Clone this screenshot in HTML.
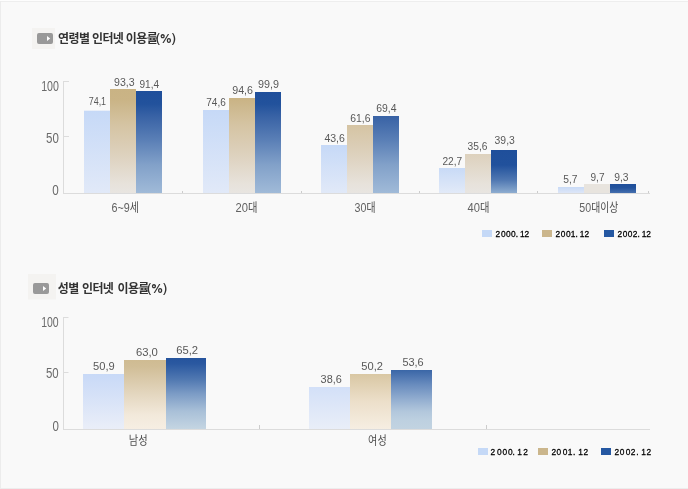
<!DOCTYPE html>
<html lang="ko">
<head>
<meta charset="utf-8">
<title>인터넷 이용률</title>
<style>
html,body{margin:0;padding:0;background:#f9f9f9;}
body{width:688px;height:489px;overflow:hidden;font-family:"Liberation Sans","Noto Sans CJK KR",sans-serif;}
svg{display:block;will-change:transform;}
text{font-family:"Liberation Sans","Noto Sans CJK KR",sans-serif;}
.h{font-family:"Liberation Sans","Noto Sans CJK KR",sans-serif;font-size:12px;font-weight:700;fill:#333333;letter-spacing:-0.55px;}
.h .p{font-family:"NanumGothic","Liberation Sans",sans-serif;}
.v{font-size:11.5px;fill:#585858;}
.a{font-size:14px;fill:#6a6a6a;}
.k{font-size:12px;font-weight:400;fill:#4c4c4c;}
.k tspan{font-size:13px;fill:#626262;}
.l{font-size:9.5px;font-weight:400;fill:#000000;stroke:#000000;stroke-width:0.28px;}
</style>
</head>
<body>
<svg width="688" height="489" viewBox="0 0 688 489">
<defs>
<linearGradient id="g0" x1="0" y1="0" x2="0" y2="1"><stop offset="0" stop-color="#c6d9f7"/><stop offset="1" stop-color="#e1e9f8"/></linearGradient>
<linearGradient id="g1" x1="0" y1="0" x2="0" y2="1"><stop offset="0" stop-color="#c9b384"/><stop offset="0.106" stop-color="#cab486"/><stop offset="0.346" stop-color="#d5c4a3"/><stop offset="0.625" stop-color="#ddd1bd"/><stop offset="0.913" stop-color="#e7e2db"/><stop offset="1" stop-color="#e8e5e1"/></linearGradient>
<linearGradient id="g2" x1="0" y1="0" x2="0" y2="1"><stop offset="0" stop-color="#1f4f9b"/><stop offset="0.127" stop-color="#22529c"/><stop offset="0.245" stop-color="#3862a5"/><stop offset="0.48" stop-color="#5a7fb6"/><stop offset="0.725" stop-color="#82a1c9"/><stop offset="1" stop-color="#a0bad8"/></linearGradient>
<linearGradient id="g3" x1="0" y1="0" x2="0" y2="1"><stop offset="0" stop-color="#cab486"/><stop offset="0.021" stop-color="#cab486"/><stop offset="0.284" stop-color="#d5c4a3"/><stop offset="0.589" stop-color="#ddd1bd"/><stop offset="0.905" stop-color="#e7e2db"/><stop offset="1" stop-color="#e8e5e1"/></linearGradient>
<linearGradient id="g4" x1="0" y1="0" x2="0" y2="1"><stop offset="0" stop-color="#1f4f9b"/><stop offset="0.119" stop-color="#22529c"/><stop offset="0.238" stop-color="#3862a5"/><stop offset="0.475" stop-color="#5a7fb6"/><stop offset="0.723" stop-color="#82a1c9"/><stop offset="1" stop-color="#a0bad8"/></linearGradient>
<linearGradient id="g5" x1="0" y1="0" x2="0" y2="1"><stop offset="0" stop-color="#d5c4a3"/><stop offset="0.426" stop-color="#ddd1bd"/><stop offset="0.868" stop-color="#e7e2db"/><stop offset="1" stop-color="#e8e5e1"/></linearGradient>
<linearGradient id="g6" x1="0" y1="0" x2="0" y2="1"><stop offset="0" stop-color="#3862a5"/><stop offset="0.312" stop-color="#5a7fb6"/><stop offset="0.636" stop-color="#82a1c9"/><stop offset="1" stop-color="#a0bad8"/></linearGradient>
<linearGradient id="g7" x1="0" y1="0" x2="0" y2="1"><stop offset="0" stop-color="#c8daf6"/><stop offset="1" stop-color="#e2eaf8"/></linearGradient>
<linearGradient id="g8" x1="0" y1="0" x2="0" y2="1"><stop offset="0" stop-color="#ddd1bd"/><stop offset="0.769" stop-color="#e7e2db"/><stop offset="1" stop-color="#e8e5e1"/></linearGradient>
<linearGradient id="g9" x1="0" y1="0" x2="0" y2="1"><stop offset="0" stop-color="#1f4f9b"/><stop offset="0.35" stop-color="#21519c"/><stop offset="0.7" stop-color="#5078b2"/><stop offset="1" stop-color="#8eadd0"/></linearGradient>
<linearGradient id="g10" x1="0" y1="0" x2="0" y2="1"><stop offset="0" stop-color="#c8daf6"/><stop offset="1" stop-color="#dde6f7"/></linearGradient>
<linearGradient id="g11" x1="0" y1="0" x2="0" y2="1"><stop offset="0" stop-color="#e8e4de"/><stop offset="1" stop-color="#e8e4de"/></linearGradient>
<linearGradient id="g12" x1="0" y1="0" x2="0" y2="1"><stop offset="0" stop-color="#1f4f9b"/><stop offset="0.4" stop-color="#22529c"/><stop offset="1" stop-color="#456fae"/></linearGradient>
<linearGradient id="g13" x1="0" y1="0" x2="0" y2="1"><stop offset="0" stop-color="#c8d9f7"/><stop offset="1" stop-color="#eaeef8"/></linearGradient>
<linearGradient id="g14" x1="0" y1="0" x2="0" y2="1"><stop offset="0" stop-color="#cfbb92"/><stop offset="0.1" stop-color="#d1be97"/><stop offset="0.5" stop-color="#e4d7c0"/><stop offset="0.8" stop-color="#f2e9db"/><stop offset="1" stop-color="#f6eee3"/></linearGradient>
<linearGradient id="g15" x1="0" y1="0" x2="0" y2="1"><stop offset="0" stop-color="#25549d"/><stop offset="0.08" stop-color="#2a58a0"/><stop offset="0.3" stop-color="#5078b1"/><stop offset="0.5" stop-color="#7b9bc5"/><stop offset="0.75" stop-color="#a9c0d8"/><stop offset="1" stop-color="#c4d5e2"/></linearGradient>
<linearGradient id="g16" x1="0" y1="0" x2="0" y2="1"><stop offset="0" stop-color="#d3e0f8"/><stop offset="1" stop-color="#e9eef8"/></linearGradient>
<linearGradient id="g17" x1="0" y1="0" x2="0" y2="1"><stop offset="0" stop-color="#d9c7a3"/><stop offset="0.5" stop-color="#ecdfca"/><stop offset="1" stop-color="#f6eee2"/></linearGradient>
<linearGradient id="g18" x1="0" y1="0" x2="0" y2="1"><stop offset="0" stop-color="#3a66a7"/><stop offset="0.25" stop-color="#698cbe"/><stop offset="0.5" stop-color="#93aed0"/><stop offset="0.7" stop-color="#b2c7dc"/><stop offset="0.85" stop-color="#bdd0e0"/><stop offset="1" stop-color="#c2d3e1"/></linearGradient>
</defs>
<rect x="0" y="0" width="688" height="489" fill="#f9f9f9"/>
<rect x="0" y="0" width="688" height="1" fill="#fdfdfd"/>
<rect x="0" y="1" width="688" height="1" fill="#eeeeee"/>
<rect x="0" y="1" width="1" height="488" fill="#ececec"/>
<rect x="0" y="488" width="688" height="1" fill="#ededed"/>
<rect x="32" y="28" width="23" height="21" fill="#f4f3f1"/>
<rect x="37" y="33" width="16" height="11" rx="1.9" ry="1.9" fill="#999999"/>
<path d="M47 36 L50.2 38.5 L47 41 Z" fill="#ffffff"/>
<text class="h" y="42.6"><tspan x="58.0">연령별 </tspan><tspan x="91.9">인터넷 </tspan><tspan x="125.8">이용률</tspan><tspan x="155.4" class="p">(%)</tspan></text>
<rect x="28" y="274" width="28" height="25.5" fill="#f4f3f1"/>
<rect x="33" y="283" width="16" height="11" rx="1.9" ry="1.9" fill="#999999"/>
<path d="M43 286 L46.2 288.5 L43 291 Z" fill="#ffffff"/>
<text class="h" y="292.6"><tspan x="57.7">성별 </tspan><tspan x="81.9">인터넷 </tspan><tspan x="117.4">이용률</tspan><tspan x="146.7" class="p">(%)</tspan></text>
<rect x="63" y="81" width="1" height="113" fill="#dcdcdc"/>
<rect x="63" y="81" width="6" height="1" fill="#dcdcdc"/>
<rect x="63" y="136" width="6" height="1" fill="#dcdcdc"/>
<rect x="63" y="193" width="587" height="1" fill="#dcdcdc"/>
<rect x="182" y="191" width="1" height="2" fill="#cccccc"/>
<rect x="301" y="191" width="1" height="2" fill="#cccccc"/>
<rect x="419" y="191" width="1" height="2" fill="#cccccc"/>
<rect x="537" y="191" width="1" height="2" fill="#cccccc"/>
<rect x="648" y="191" width="1" height="2" fill="#cccccc"/>
<rect x="84" y="110.7" width="26" height="82.3" fill="url(#g0)"/>
<rect x="110" y="89" width="26" height="104" fill="url(#g1)"/>
<rect x="136" y="91" width="26" height="102" fill="url(#g2)"/>
<rect x="203" y="110" width="26" height="83" fill="url(#g0)"/>
<rect x="229" y="98" width="26" height="95" fill="url(#g3)"/>
<rect x="255" y="92" width="26" height="101" fill="url(#g4)"/>
<rect x="321" y="145" width="26" height="48" fill="url(#g0)"/>
<rect x="347" y="125" width="26" height="68" fill="url(#g5)"/>
<rect x="373" y="116" width="26" height="77" fill="url(#g6)"/>
<rect x="439" y="168" width="26" height="25" fill="url(#g7)"/>
<rect x="465" y="154" width="26" height="39" fill="url(#g8)"/>
<rect x="491" y="150" width="26" height="43" fill="url(#g9)"/>
<rect x="558" y="187" width="26" height="6" fill="url(#g10)"/>
<rect x="584" y="184" width="26" height="9" fill="url(#g11)"/>
<rect x="610" y="184" width="26" height="9" fill="url(#g12)"/>
<text class="v" x="88.7" y="105" textLength="17.4" lengthAdjust="spacingAndGlyphs">74,1</text>
<text class="v" x="114.1" y="86" textLength="20.6" lengthAdjust="spacingAndGlyphs">93,3</text>
<text class="v" x="139.5" y="88.3" textLength="19.6" lengthAdjust="spacingAndGlyphs">91,4</text>
<text class="v" x="206.3" y="106" textLength="19.5" lengthAdjust="spacingAndGlyphs">74,6</text>
<text class="v" x="232.2" y="94.2" textLength="20.8" lengthAdjust="spacingAndGlyphs">94,6</text>
<text class="v" x="257.9" y="88" textLength="21.0" lengthAdjust="spacingAndGlyphs">99,9</text>
<text class="v" x="324.4" y="141.8" textLength="20.5" lengthAdjust="spacingAndGlyphs">43,6</text>
<text class="v" x="350.3" y="122.2" textLength="20.2" lengthAdjust="spacingAndGlyphs">61,6</text>
<text class="v" x="376.2" y="112" textLength="20.3" lengthAdjust="spacingAndGlyphs">69,4</text>
<text class="v" x="442.4" y="165" textLength="19.8" lengthAdjust="spacingAndGlyphs">22,7</text>
<text class="v" x="467.6" y="149.7" textLength="19.9" lengthAdjust="spacingAndGlyphs">35,6</text>
<text class="v" x="494.6" y="143.9" textLength="20.2" lengthAdjust="spacingAndGlyphs">39,3</text>
<text class="v" x="563.2" y="183" textLength="14.3" lengthAdjust="spacingAndGlyphs">5,7</text>
<text class="v" x="590.5" y="181.3" textLength="14.0" lengthAdjust="spacingAndGlyphs">9,7</text>
<text class="v" x="614.2" y="181.3" textLength="14.3" lengthAdjust="spacingAndGlyphs">9,3</text>
<text class="a" x="41.2" y="91" textLength="17.7" lengthAdjust="spacingAndGlyphs">100</text>
<text class="a" x="46.0" y="143" textLength="12.8" lengthAdjust="spacingAndGlyphs">50</text>
<text class="a" x="52.3" y="194.6" textLength="6.5" lengthAdjust="spacingAndGlyphs">0</text>
<text class="k" x="111.6" y="212.2" textLength="27.4" lengthAdjust="spacingAndGlyphs"><tspan>6~9</tspan>세</text>
<text class="k" x="235.6" y="212.2" textLength="21.9" lengthAdjust="spacingAndGlyphs"><tspan>20</tspan>대</text>
<text class="k" x="354.6" y="212.2" textLength="20.9" lengthAdjust="spacingAndGlyphs"><tspan>30</tspan>대</text>
<text class="k" x="467.6" y="212.2" textLength="21.9" lengthAdjust="spacingAndGlyphs"><tspan>40</tspan>대</text>
<text class="k" x="579.3" y="212.2" textLength="39.0" lengthAdjust="spacingAndGlyphs"><tspan>50</tspan>대이상</text>
<rect x="482" y="230" width="10" height="7" fill="#c5d9f7"/>
<rect x="542" y="230" width="10" height="7" fill="#cbb68c"/>
<rect x="604" y="230" width="10" height="7" fill="#2558a2"/>
<text class="l" transform="scale(0.88 1)" x="563.2 569.2 575.0 580.6 586.0 588.9 590.8 596.0" y="237.2">2000. 12</text>
<text class="l" transform="scale(0.88 1)" x="631.2 637.3 643.1 648.6 654.1 656.9 658.9 664.1" y="237.2">2001. 12</text>
<text class="l" transform="scale(0.88 1)" x="701.7 707.7 713.5 719.1 724.5 727.4 729.3 734.5" y="237.2">2002. 12</text>
<rect x="63" y="317" width="1" height="113" fill="#dcdcdc"/>
<rect x="63" y="317" width="5.5" height="1" fill="#dcdcdc"/>
<rect x="63" y="372" width="5.5" height="1" fill="#dcdcdc"/>
<rect x="63" y="429" width="587" height="1" fill="#dcdcdc"/>
<rect x="259" y="425" width="1" height="4" fill="#cccccc"/>
<rect x="486" y="425" width="1" height="4" fill="#cccccc"/>
<rect x="83" y="374" width="41" height="55" fill="url(#g13)"/>
<rect x="124" y="360" width="42" height="69" fill="url(#g14)"/>
<rect x="166" y="358" width="40" height="71" fill="url(#g15)"/>
<rect x="309" y="387" width="41" height="42" fill="url(#g16)"/>
<rect x="350" y="374" width="41" height="55" fill="url(#g17)"/>
<rect x="391" y="370" width="41" height="59" fill="url(#g18)"/>
<text class="v" x="93.0" y="370" textLength="21.7" lengthAdjust="spacingAndGlyphs">50,9</text>
<text class="v" x="135.9" y="356" textLength="22.0" lengthAdjust="spacingAndGlyphs">63,0</text>
<text class="v" x="176.2" y="354.4" textLength="21.9" lengthAdjust="spacingAndGlyphs">65,2</text>
<text class="v" x="320.6" y="382.8" textLength="21.2" lengthAdjust="spacingAndGlyphs">38,6</text>
<text class="v" x="361.3" y="370.1" textLength="21.6" lengthAdjust="spacingAndGlyphs">50,2</text>
<text class="v" x="402.4" y="366" textLength="21.3" lengthAdjust="spacingAndGlyphs">53,6</text>
<text class="a" x="41.2" y="327" textLength="17.5" lengthAdjust="spacingAndGlyphs">100</text>
<text class="a" x="46.0" y="378.4" textLength="12.7" lengthAdjust="spacingAndGlyphs">50</text>
<text class="a" x="52.4" y="431" textLength="6.4" lengthAdjust="spacingAndGlyphs">0</text>
<text class="k" x="128.8" y="444.5" textLength="18.9" lengthAdjust="spacingAndGlyphs">남성</text>
<text class="k" x="368.1" y="444.5" textLength="18.6" lengthAdjust="spacingAndGlyphs">여성</text>
<rect x="478" y="448" width="10" height="7" fill="#c5d9f7"/>
<rect x="538" y="448" width="10" height="7" fill="#cbb68c"/>
<rect x="601" y="448" width="10" height="7" fill="#2558a2"/>
<text class="l" transform="scale(0.88 1)" x="557.5 564.8 571.0 577.4 582.4 585.6 587.8 594.7" y="455.1">2000. 12</text>
<text class="l" transform="scale(0.88 1)" x="626.7 632.5 639.5 645.1 651.2 654.4 657.0 663.1" y="455.1">2001. 12</text>
<text class="l" transform="scale(0.88 1)" x="698.4 704.2 711.2 716.8 723.0 726.1 728.8 734.8" y="455.1">2002. 12</text>
</svg>
</body>
</html>
